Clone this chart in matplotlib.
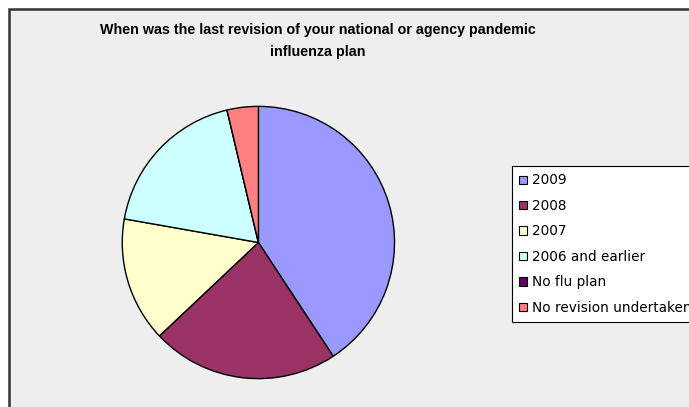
import matplotlib
matplotlib.use("Agg")
import matplotlib.pyplot as plt
import matplotlib.patches as patches

# 回答データ
labels = ["2009", "2008", "2007", "2006 and earlier", "No flu plan", "No revision undertaken"]
counts = [11, 6, 4, 5, 0, 1]
colors = ["#9999FF", "#993366", "#FFFFCC", "#CCFFFF", "#660066", "#FF8080"]

title = "When was the last revision of your national or agency pandemic\ninfluenza plan"

W, H = 689, 407
fig = plt.figure(figsize=(W / 100, H / 100), dpi=100)
fig.patch.set_facecolor("white")

# グラフ領域の枠 (右と下ははみ出す)
fig.patches.append(
    patches.Rectangle(
        (8.5 / W, -0.1), 1.2, 1 - 8.5 / H + 0.1,
        transform=fig.transFigure, facecolor="#EEEEEE",
        edgecolor="#333333", linewidth=1.8, zorder=-5,
    )
)

# タイトル
fig.text(318 / W, 1 - 41 / H, title, ha="center", va="center",
         fontsize=10.3, fontweight="bold", family="Liberation Sans",
         linespacing=1.75)

# 円グラフ
cx, cy, r = 258.4, H - 242.5, 137.5
ax = fig.add_axes([(cx - r) / W, (cy - r) / H, 2 * r / W, 2 * r / H], zorder=2)
ax.pie(counts, colors=colors, startangle=90, counterclock=False,
       wedgeprops=dict(edgecolor="black", linewidth=1.0))
ax.set_xlim(-1.01, 1.01)
ax.set_ylim(-1.01, 1.01)
ax.axis("off")

# 凡例
handles = [patches.Patch(facecolor=c, edgecolor="black", linewidth=0.8) for c in colors]
leg = fig.legend(handles, labels, loc="upper left",
                 bbox_to_anchor=(512 / W, 1 - 166 / H),
                 fontsize=9.8, frameon=True, fancybox=False, framealpha=1,
                 handlelength=0.55, handleheight=0.55, handletextpad=0.4,
                 labelspacing=0.84, borderpad=0.55, borderaxespad=0)
leg.get_frame().set_edgecolor("black")
leg.get_frame().set_linewidth(0.8)
leg.get_frame().set_facecolor("white")

fig.savefig("out.png", dpi=100)
